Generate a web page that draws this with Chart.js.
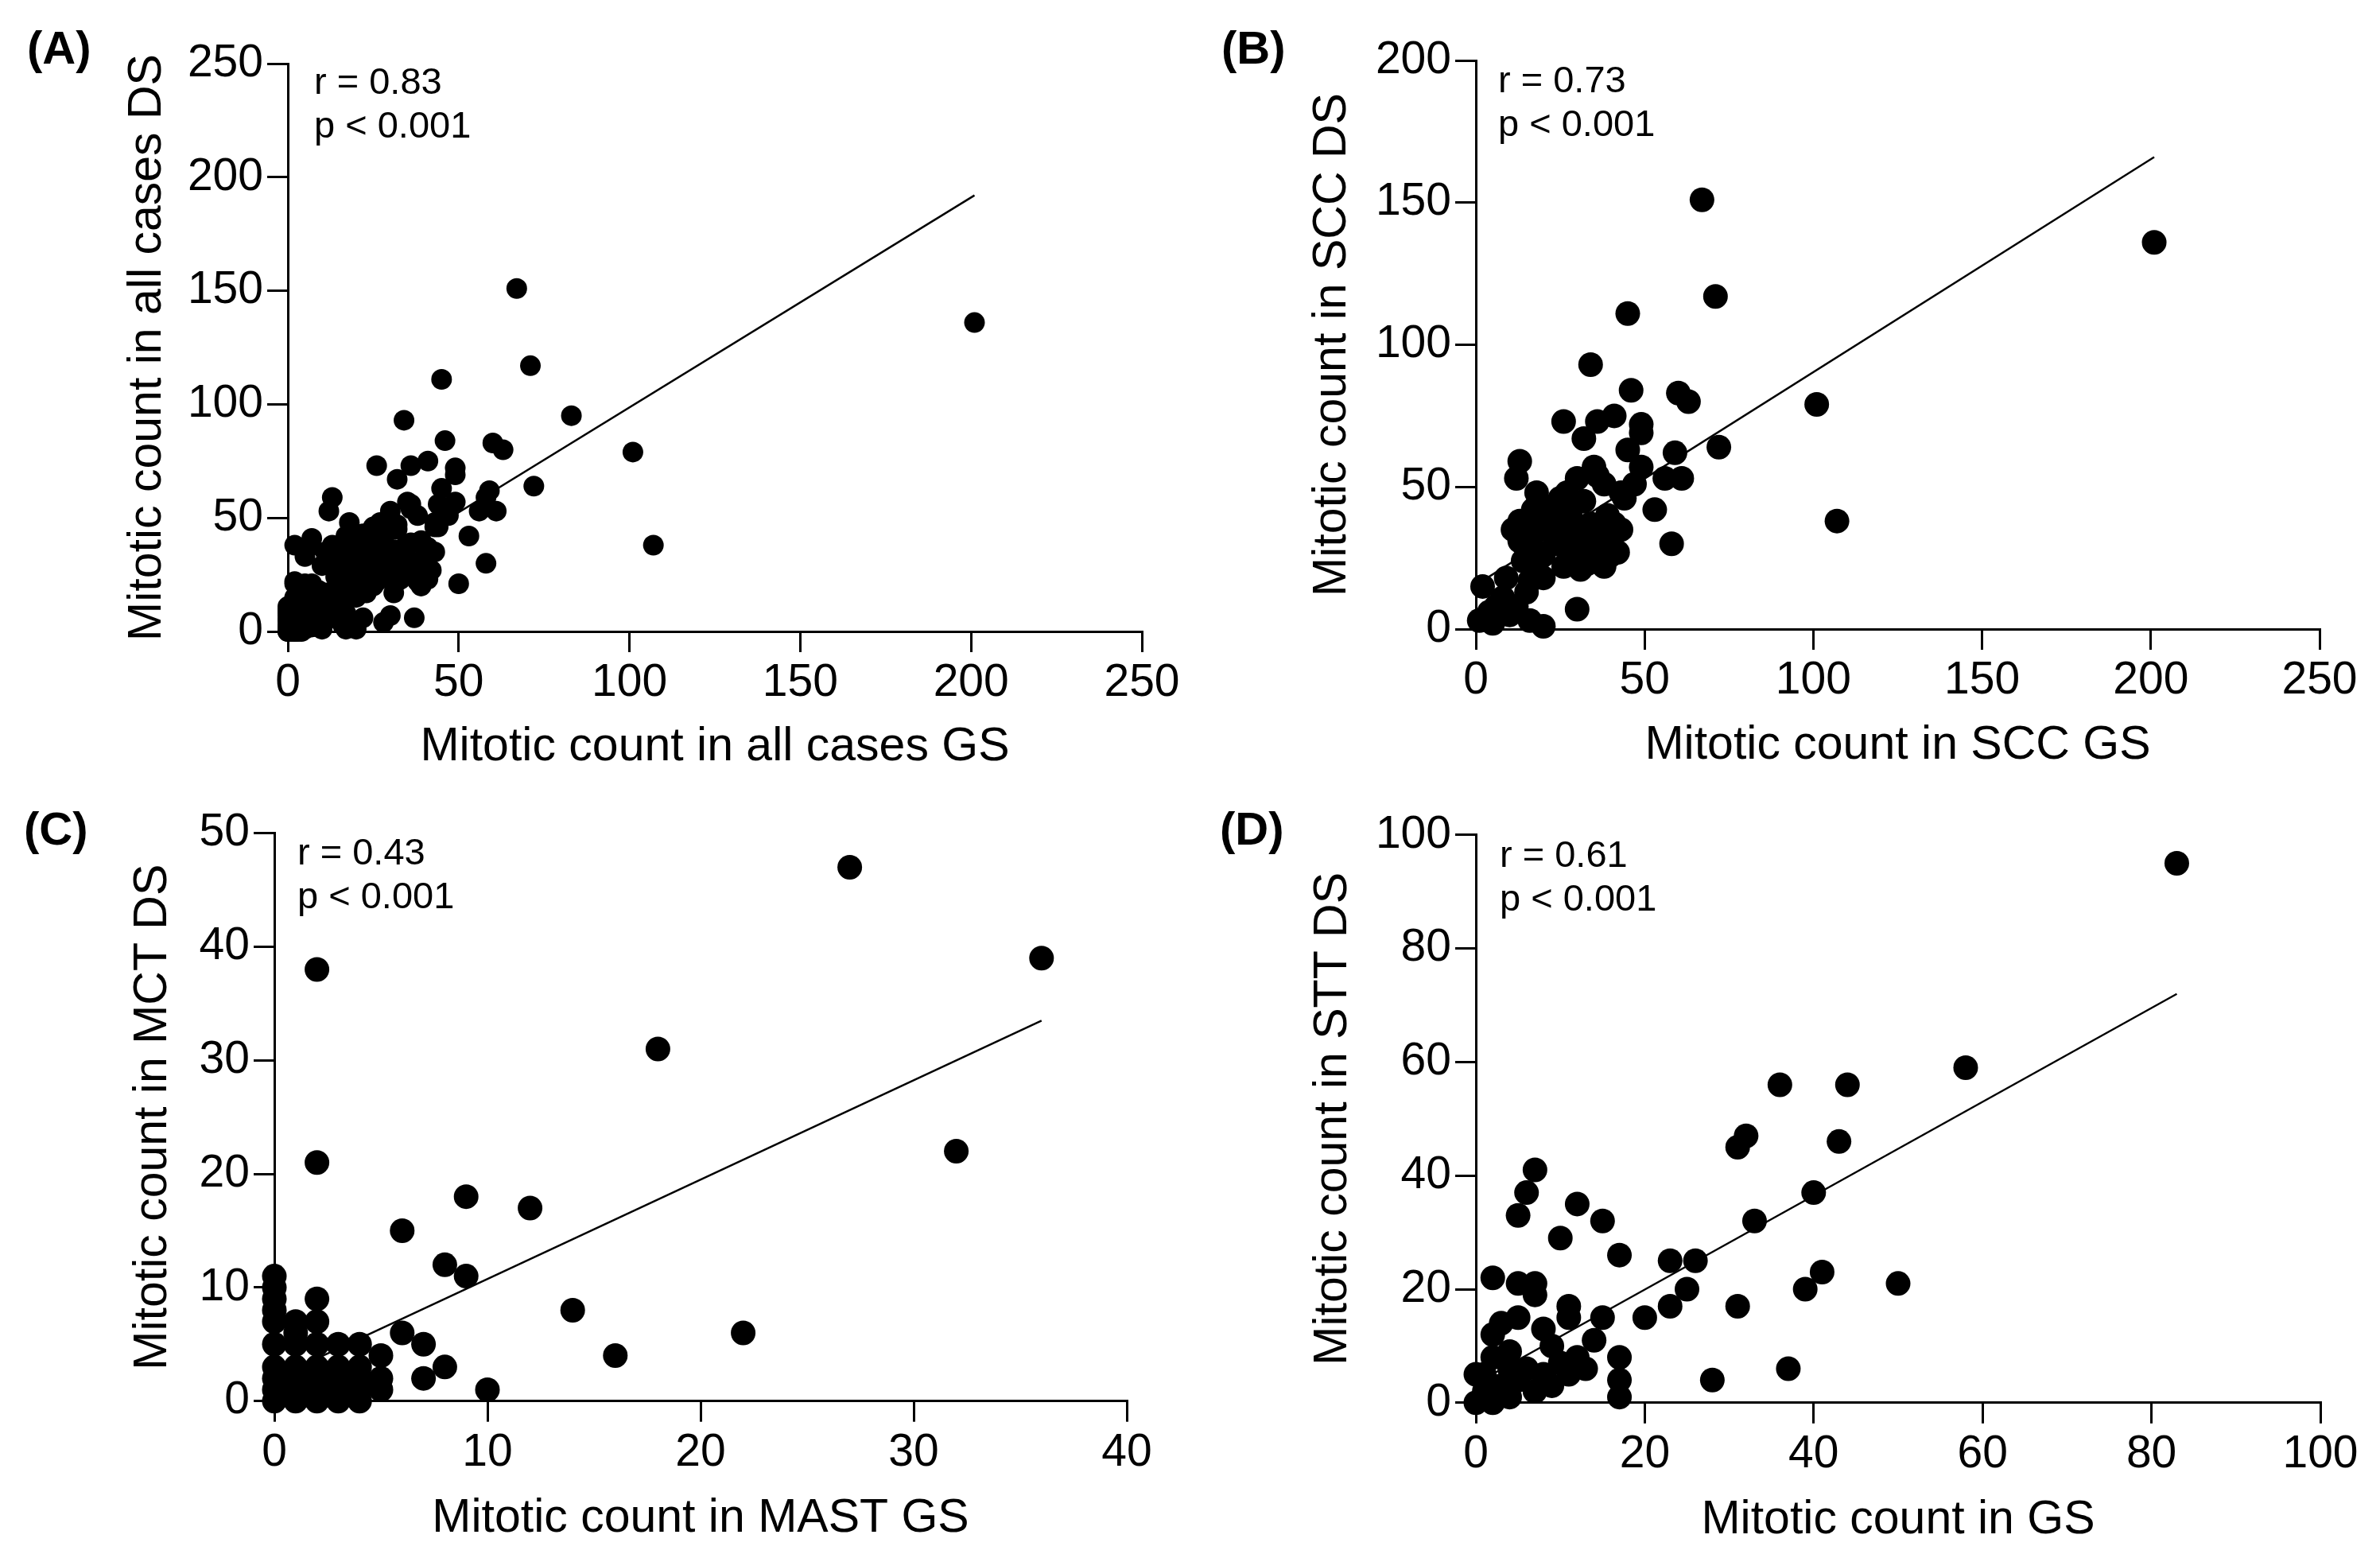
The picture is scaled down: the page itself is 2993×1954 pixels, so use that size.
<!DOCTYPE html>
<html>
<head>
<meta charset="utf-8">
<script src="https://cdn.jsdelivr.net/npm/chart.js@4.4.1/dist/chart.umd.min.js"></script>
<style>
  body { margin: 0; background: #fff; }
  #wrap { position: relative; width: 2993px; height: 1954px; background: #fff;
          font-family: "Liberation Sans", Arial, sans-serif; color: #000; }
  canvas { position: absolute; }
  .tag { position: absolute; font-weight: bold; font-size: 58px; line-height: 1; }
  .stat { position: absolute; font-size: 47px; line-height: 55px; white-space: nowrap; }
</style>
</head>
<body>
<div id="wrap">
  <canvas id="chartA" width="1500" height="1000" style="left:0;top:0"></canvas>
  <canvas id="chartB" width="1493" height="1000" style="left:1500px;top:0"></canvas>
  <canvas id="chartC" width="1500" height="954" style="left:0;top:1000px"></canvas>
  <canvas id="chartD" width="1493" height="954" style="left:1500px;top:1000px"></canvas>

  <div class="tag" style="left:34px;top:31px">(A)</div>
  <div class="tag" style="left:1536px;top:31px">(B)</div>
  <div class="tag" style="left:30px;top:1013px">(C)</div>
  <div class="tag" style="left:1534px;top:1013px">(D)</div>

  <div class="stat" style="left:395px;top:74px">r = 0.83<br>p &lt; 0.001</div>
  <div class="stat" style="left:1884px;top:72px">r = 0.73<br>p &lt; 0.001</div>
  <div class="stat" style="left:374px;top:1043px">r = 0.43<br>p &lt; 0.001</div>
  <div class="stat" style="left:1886px;top:1046px">r = 0.61<br>p &lt; 0.001</div>
</div>

<script>
// ---- data: [GS count, DS count] per case ----
const sccPoints = [
  [201,136],[67,151],[71,117],[45,111],[34,93],[46,84],[60,83],[63,80],[101,79],[26,73],
  [36,73],[41,75],[49,72],[49,69],[32,67],[72,64],[45,63],[59,62],[13,59],[12,53],
  [36,54],[49,57],[56,53],[61,53],[30,53],[38,51],[47,51],[18,48],[27,48],[43,48],
  [53,42],[58,30],[107,38],[30,7],[35,57],[25,46],[22,43],[31,36],[34,37],[40,33],
  [42,27],[36,29],[33,23],[38,22],[31,21],[40,26],[30,31],[35,32],[44,46],[41,37],
  [28,40],[11,35],[13,31],[17,28],[20,26],[20,18],[15,13],[8,11],[2,15],[1,3],
  [5,2],[20,1],[16,3],[10,5],[18,21],[14,24],[21,40],[17,42],[13,38],[9,18],
  [6,8],[12,8],[4,6],[16,17],[23,33],[19,35],[25,38],[27,35],[24,30],[28,27],
  [33,28],[37,25],[39,40],[32,45],[22,36],[15,26],[26,22],[29,25],[43,35],[16,38]
];

const mctPoints = [
  [27,47],[36,39],[2,38],[18,31],[2,21],[32,22],[9,18],[12,17],[6,15],[8,12],
  [9,11],[14,8],[22,6],[16,4],[10,1],[6,6],[7,5],[8,3],[7,2],
  [0,11],[0,10],[0,9],[0,8],[0,7],[0,5],[0,3],[0,2],[0,1],[0,0],
  [1,7],[1,6],[1,5],[1,3],[1,2],[1,1],[1,0],
  [2,9],[2,7],[2,5],[2,3],[2,2],[2,1],[2,0],
  [3,5],[3,3],[3,2],[3,1],[3,0],
  [4,5],[4,3],[4,2],[4,1],[4,0],
  [5,4],[5,2],[5,1]
];

const sttPoints = [
  [83,95],[58,59],[36,56],[44,56],[32,47],[31,45],[43,46],[40,37],[33,32],[41,23],
  [39,20],[50,21],[31,17],[37,6],[28,4],[26,25],[23,25],[25,20],[23,17],[20,15],
  [7,41],[6,37],[5,33],[12,35],[15,32],[10,29],[17,26],[2,22],[5,21],[7,21],
  [7,19],[11,17],[11,15],[15,15],[14,11],[17,8],[17,4],[17,1],[13,6],[11,5],
  [9,3],[5,15],[8,13],[2,12],[3,14],[9,10],[2,8],[1,5],[0,5],[0,0],
  [2,0],[4,1],[7,2],[6,6],[4,6],[10,7],[12,8],[4,9],[1,2],[3,3],
  [5,4],[8,5]
];

// panel A pools every case from the three tumour groups
const allPoints = sccPoints.concat(mctPoints, sttPoints);

// regression lines, end points
const fitAllX = [0, 201], fitAllY = [6.2, 192];
const fitSccX = [0, 201], fitSccY = [15.5, 166];
const fitMctX = [0, 36],  fitMctY = [2, 33.5];
const fitSttX = [0, 83],  fitSttY = [3.4, 72];

// axis ticks
const ticksAllX = [0, 50, 100, 150, 200, 250];
const ticksAllY = [0, 50, 100, 150, 200, 250];
const ticksSccX = [0, 50, 100, 150, 200, 250];
const ticksSccY = [0, 50, 100, 150, 200];
const ticksMctX = [0, 10, 20, 30, 40];
const ticksMctY = [0, 10, 20, 30, 40, 50];
const ticksSttX = [0, 20, 40, 60, 80, 100];
const ticksSttY = [0, 20, 40, 60, 80, 100];

const FONT = '"Liberation Sans", Arial, sans-serif';

function toXY(pairs) {
    return pairs.map(p => ({ x: p[0], y: p[1] }));
}

function axis(tickVals, title, fitFn, titlePad) {
    return {
        type: 'linear',
        min: tickVals[0],
        max: tickVals[tickVals.length - 1],
        afterBuildTicks: s => { s.ticks = tickVals.map(v => ({ value: v })); },
        afterFit: fitFn,
        grid: { drawOnChartArea: false, drawTicks: true, tickLength: 26,
                tickWidth: 3, tickColor: '#000', color: '#000', lineWidth: 3 },
        border: { display: true, color: '#000', width: 3 },
        ticks: { color: '#000', font: { family: FONT, size: 57 }, padding: 5,
                 maxRotation: 0, autoSkip: false },
        title: { display: true, text: title, color: '#000',
                 font: { family: FONT, size: 59 }, padding: titlePad }
    };
}

function makePanel(id, pts, fx, fy, xt, yt, xTitle, yTitle, box) {
    new Chart(document.getElementById(id), {
        type: 'scatter',
        data: {
            datasets: [
                {
                    data: toXY(pts),
                    backgroundColor: '#000',
                    borderWidth: 0,
                    pointRadius: box.r,
                    pointHoverRadius: box.r,
                    clip: false
                },
                {
                    data: fx.map((x, i) => ({ x: x, y: fy[i] })),
                    showLine: true,
                    borderColor: '#000',
                    borderWidth: 2.5,
                    pointRadius: 0,
                    fill: false,
                    clip: false
                }
            ]
        },
        options: {
            responsive: false,
            animation: false,
            devicePixelRatio: 1,
            layout: { padding: { left: 0, top: box.top, right: box.right, bottom: 0 } },
            plugins: { legend: { display: false }, tooltip: { enabled: false } },
            scales: {
                x: axis(xt, xTitle, s => { s.height = box.xh; }, { top: 0, bottom: box.xtp }),
                y: axis(yt, yTitle, s => { s.width = box.yw; }, { top: box.ytp, bottom: 0 })
            }
        }
    });
}

makePanel('chartA', allPoints, fitAllX, fitAllY, ticksAllX, ticksAllY,
    'Mitotic count in all cases GS', 'Mitotic count in all cases DS',
    { r: 13, top: 80, right: 64, xh: 206, yw: 362, xtp: 24.6, ytp: 150 });

makePanel('chartB', sccPoints, fitSccX, fitSccY, ticksSccX, ticksSccY,
    'Mitotic count in SCC GS', 'Mitotic count in SCC DS',
    { r: 15.5, top: 76, right: 76, xh: 209, yw: 356, xtp: 26.6, ytp: 140 });

makePanel('chartC', mctPoints, fitMctX, fitMctY, ticksMctX, ticksMctY,
    'Mitotic count in MAST GS', 'Mitotic count in MCT DS',
    { r: 15.5, top: 47.7, right: 83, xh: 192.3, yw: 345, xtp: 8.6, ytp: 157.6 });

makePanel('chartD', sttPoints, fitSttX, fitSttY, ticksSttX, ticksSttY,
    'Mitotic count in GS', 'Mitotic count in STT DS',
    { r: 15.5, top: 49.8, right: 75, xh: 190.2, yw: 356, xtp: 6.6, ytp: 141.6 });
</script>
</body>
</html>
